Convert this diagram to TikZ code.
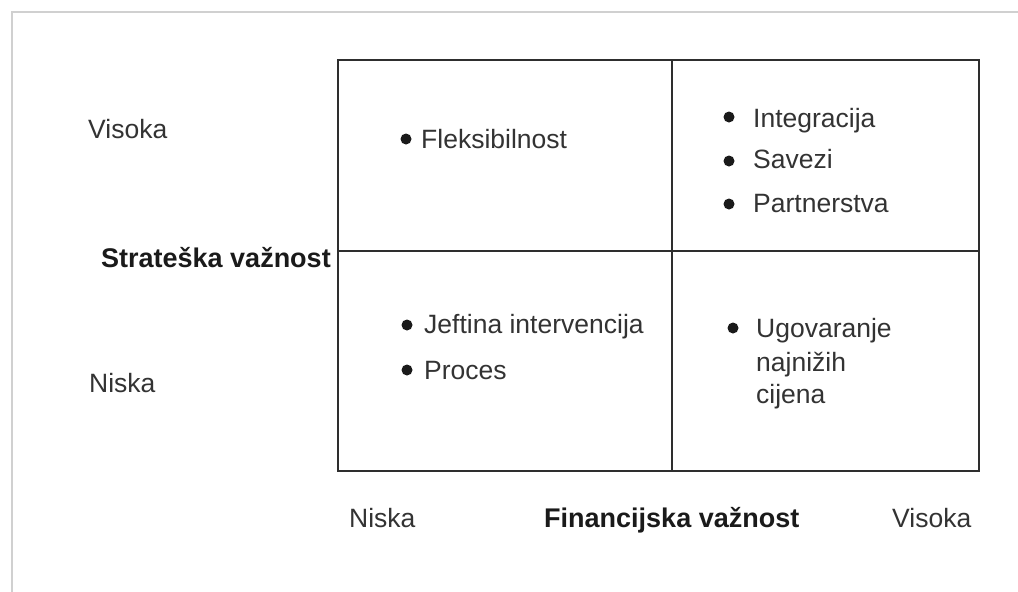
\documentclass[tikz,border=0pt]{standalone}
\usepackage{fontspec}
\setmainfont{Liberation Sans}
\definecolor{txt}{HTML}{333333}
\definecolor{boldtxt}{HTML}{1A1A1A}
\definecolor{grid}{HTML}{2E2E2E}
\definecolor{frame}{HTML}{D0D0D0}
\begin{document}
\begin{tikzpicture}[x=1pt,y=-1pt,
  lbl/.style={inner sep=0pt,anchor=base west,text=txt,font=\fontsize{26.5}{30}\selectfont},
  blbl/.style={inner sep=0pt,anchor=base west,text=boldtxt,font=\fontsize{27}{31}\selectfont\bfseries},
  bul/.style={circle,fill=boldtxt,inner sep=0pt,minimum size=11pt},
  gridline/.style={draw=grid,line width=2pt}]
\useasboundingbox (0,0) rectangle (1018,592);
\fill[white] (0,0) rectangle (1018,592);
% outer frame (left and top edges)
\draw[frame,line width=2pt] (1018,12) -- (12,12) -- (12,592);
% matrix grid
\coordinate (tl) at (338,60);
\coordinate (br) at (979,471);
\coordinate (mt) at (672,60);
\coordinate (mb) at (672,471);
\coordinate (ml) at (338,251);
\coordinate (mr) at (979,251);
\draw[gridline] (tl) rectangle (br);
\draw[gridline] (mt) -- (mb);
\draw[gridline] (ml) -- (mr);
% axis labels
\node[lbl] (vhi) at (88,138) {Visoka};
\node[blbl,anchor=base east] (yax) at (331,267) {Strateška važnost};
\node[lbl] (vlo) at (89,392) {Niska};
\node[lbl] (hlo) at (349,527) {Niska};
\node[blbl] (xax) at (544,527) {Financijska važnost};
\node[lbl] (hhi) at (892,527) {Visoka};
% top-left
\node[bul] (b1) at (406,139) {};
\node[lbl] (t1) at (421,148) {Fleksibilnost};
% top-right
\node[bul] (b2) at (729,117) {};
\node[lbl] (t2) at (753,127) {Integracija};
\node[bul] (b3) at (729,161) {};
\node[lbl] (t3) at (753,168) {Savezi};
\node[bul] (b4) at (729,204) {};
\node[lbl] (t4) at (753,212) {Partnerstva};
% bottom-left
\node[bul] (b5) at (407,325) {};
\node[lbl] (t5) at (424,333) {Jeftina intervencija};
\node[bul] (b6) at (407,370) {};
\node[lbl] (t6) at (424,379) {Proces};
% bottom-right
\node[bul] (b7) at (733,328) {};
\node[lbl] (t7) at (756,337) {Ugovaranje};
\node[lbl] (t8) at (756,371) {najnižih};
\node[lbl] (t9) at (756,403) {cijena};
\end{tikzpicture}
\end{document}
